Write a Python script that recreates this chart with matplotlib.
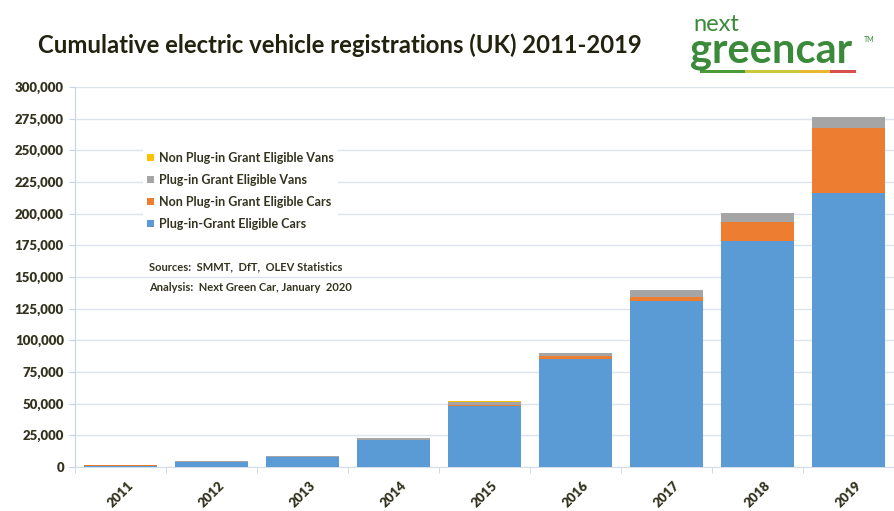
import matplotlib
matplotlib.use("Agg")
import matplotlib.pyplot as plt
from matplotlib.patches import Rectangle
import numpy as np

years = ["2011", "2012", "2013", "2014", "2015", "2016", "2017", "2018", "2019"]
plugin_cars = [1100, 4000, 7900, 21500, 48500, 85000, 131000, 178500, 216000]
nonplugin_cars = [100, 100, 100, 200, 300, 2500, 3000, 15000, 52000]
plugin_vans = [300, 300, 600, 1100, 2700, 2500, 5400, 7000, 8000]
nonplugin_vans = [100, 200, 200, 300, 400, 300, 300, 400, 400]

series_labels = ["Plug-in-Grant Eligible Cars", "Non Plug-in Grant Eligible Cars",
                 "Plug-in Grant Eligible Vans", "Non Plug-in Grant Eligible Vans"]
colors = ["#5B9BD5", "#ED7D31", "#A5A5A5", "#FFC000"]
yticks = [0, 25000, 50000, 75000, 100000, 125000, 150000, 175000, 200000,
          225000, 250000, 275000, 300000]

plt.rcParams['font.family'] = ['Lato', 'DejaVu Sans']
W, H = 894, 511
fig = plt.figure(figsize=(W/100, H/100), dpi=100)
fig.patch.set_facecolor("white")
ax = fig.add_axes([75/W, 44/H, (W-75)/W, (467-87)/H])

x = np.arange(len(years))
data = [plugin_cars, nonplugin_cars, plugin_vans, nonplugin_vans]
bottom = np.zeros(len(years))
handles = []
for vals, c, lab in zip(data, colors, series_labels):
    b = ax.bar(x, vals, 0.81, bottom=bottom, color=c, label=lab, zorder=3)
    handles.append(b)
    bottom += np.array(vals)

txtc = "#33331f"
ax.set_ylim(0, 300000)
ax.set_xlim(-0.5, -0.5 + (W-75)/92)
ax.set_yticks(yticks)
ax.set_yticklabels([f"{v:,}" for v in yticks], fontsize=9.5, fontweight='heavy', color=txtc)
ax.set_xticks(x)
ax.set_xticklabels(years, rotation=45, fontsize=9.5, fontweight='heavy', color=txtc)
ax.set_xticks(np.arange(-0.5, len(years)), minor=True)
ax.tick_params(axis='x', which='major', length=0, pad=9)
ax.tick_params(axis='x', which='minor', length=4, color="#c8d4e6")
ax.tick_params(axis='y', length=4, color="#c8d4e6", pad=4)
ax.grid(axis='y', color="#dde3ee", linewidth=1, zorder=0)
for s in ['top', 'right']:
    ax.spines[s].set_visible(False)
ax.spines['left'].set_color("#c8d4e6")
ax.spines['bottom'].set_color("#d6dde8")

leg = ax.legend(handles=handles[::-1], labels=series_labels[::-1],
                loc='upper left', bbox_to_anchor=(62/(W-75), (467-142)/380),
                frameon=True, fontsize=9, handlelength=0.55, handleheight=0.55,
                handletextpad=0.4, labelspacing=0.8, borderpad=0.3)
leg.get_frame().set_facecolor("white")
leg.get_frame().set_edgecolor("none")
leg.get_frame().set_alpha(1)
for t in leg.get_texts():
    t.set_fontweight('bold')
    t.set_color(txtc)
leg.set_zorder(5)

fig.text(149/W, 1-267/H, "Sources:  SMMT,  DfT,  OLEV Statistics", fontsize=8,
         fontweight='bold', color=txtc, va='center', ha='left',
         bbox=dict(facecolor='white', edgecolor='none', pad=2))
fig.text(149/W, 1-287/H, "Analysis:  Next Green Car, January  2020", fontsize=8,
         fontweight='bold', color=txtc, va='center', ha='left',
         bbox=dict(facecolor='white', edgecolor='none', pad=2))

fig.text(38/W, 1-45/H, "Cumulative electric vehicle registrations (UK) 2011-2019",
         fontsize=17.2, fontweight='bold', color="#22220f", va='center', ha='left')

green = "#3a8a3a"
fig.text(693/W, 1-31/H, "next", fontsize=17, color=green, va='baseline', ha='left')
fig.text(690/W, 1-62/H, "greencar", fontsize=30, fontweight='bold', color=green,
         va='baseline', ha='left')
fig.text(864/W, 1-40/H, "TM", fontsize=5, color=green, va='center', ha='left')
segs = [("#4a9a3a", 700, 745), ("#c8c83a", 745, 800), ("#e8b830", 800, 830), ("#d85050", 830, 856)]
for c, x0, x1 in segs:
    fig.patches.append(Rectangle((x0/W, 1-73/H), (x1-x0)/W, 3/H, transform=fig.transFigure,
                                 facecolor=c, edgecolor='none'))

fig.savefig("out.png", dpi=100, facecolor="white")
